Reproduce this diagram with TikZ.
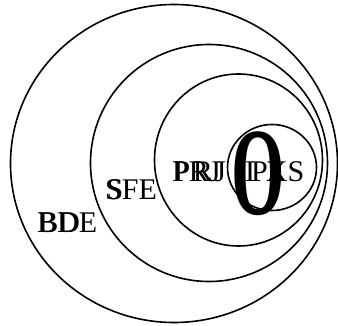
\documentclass[tikz,border=0pt]{standalone}
\usepackage{fontspec}
\setmainfont{Liberation Serif}
\usetikzlibrary{shapes.geometric}
\begin{document}
\begin{tikzpicture}[x=1pt,y=-1pt,
  ring/.style={draw=black,line width=1.6pt,ellipse,inner sep=0pt,fill=none},
  lbl/.style={font=\fontsize{30}{30}\selectfont,inner sep=0pt,anchor=base west}]
\useasboundingbox (0,0) rectangle (338,326);
\node[ring,minimum width=327pt,minimum height=318pt] (bde) at (174,163.5) {};
\node[ring,minimum width=237pt,minimum height=237pt] (sfe) at (209,163) {};
\node[ring,minimum width=168pt,minimum height=172pt] (prj) at (238.5,160) {};
\node[ring,minimum width=89pt,minimum height=86pt] (ipxs) at (272,167.5) {};
\node[lbl] (tbde) at (37,233) {BDE};
\node[lbl] (tbde2) at (38.2,233) {BD};
\node[lbl] (tsfe) at (105,200) {SFE};
\node[lbl] (tsfe2) at (106.5,200) {S};
\node[lbl] (tprj) at (172,182) {PRJ};
\node[lbl] (tprj2) at (173.5,182) {P\kern2.5pt R\kern1.5pt J};
\node[lbl] (tipxs) at (245,182) {I\kern-4pt P\kern-2pt XS};
\node[inner sep=0pt,xscale=0.55,font=\fontsize{125}{125}\selectfont\bfseries] (o) at (258,173.5) {O};
\end{tikzpicture}
\end{document}
